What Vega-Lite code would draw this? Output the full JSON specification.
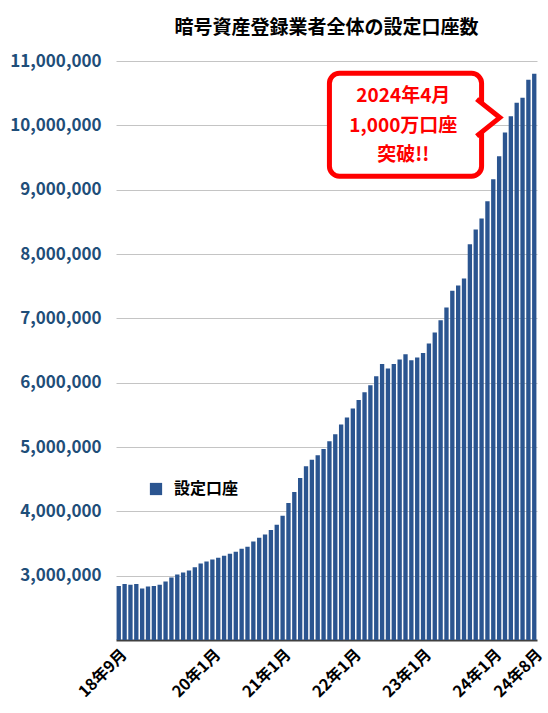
{
  "$schema": "https://vega.github.io/schema/vega-lite/v6.json",
  "autosize": {"type": "none"},
  "width": 421,
  "height": 579,
  "padding": {"left": 116, "top": 61, "right": 11, "bottom": 73},
  "config": {
    "font": "Noto Sans CJK JP",
    "view": {"stroke": null},
    "axis": {"ticks": false, "labelFontWeight": "bold", "titleFontWeight": "bold"}
  },
  "title": {
    "text": "暗号資産登録業者全体の設定口座数",
    "fontSize": 19,
    "fontWeight": "bold",
    "color": "#000000",
    "anchor": "middle",
    "offset": 14
  },
  "layer": [
    {
      "data": {
        "values": [
          {"月": "18年9月", "口座数": 2840000},
          {"月": "18年10月", "口座数": 2870000},
          {"月": "18年11月", "口座数": 2860000},
          {"月": "18年12月", "口座数": 2870000},
          {"月": "19年1月", "口座数": 2800000},
          {"月": "19年2月", "口座数": 2830000},
          {"月": "19年3月", "口座数": 2840000},
          {"月": "19年4月", "口座数": 2860000},
          {"月": "19年5月", "口座数": 2910000},
          {"月": "19年6月", "口座数": 2970000},
          {"月": "19年7月", "口座数": 3020000},
          {"月": "19年8月", "口座数": 3050000},
          {"月": "19年9月", "口座数": 3080000},
          {"月": "19年10月", "口座数": 3130000},
          {"月": "19年11月", "口座数": 3190000},
          {"月": "19年12月", "口座数": 3220000},
          {"月": "20年1月", "口座数": 3250000},
          {"月": "20年2月", "口座数": 3280000},
          {"月": "20年3月", "口座数": 3310000},
          {"月": "20年4月", "口座数": 3340000},
          {"月": "20年5月", "口座数": 3370000},
          {"月": "20年6月", "口座数": 3420000},
          {"月": "20年7月", "口座数": 3450000},
          {"月": "20年8月", "口座数": 3530000},
          {"月": "20年9月", "口座数": 3590000},
          {"月": "20年10月", "口座数": 3640000},
          {"月": "20年11月", "口座数": 3710000},
          {"月": "20年12月", "口座数": 3790000},
          {"月": "21年1月", "口座数": 3930000},
          {"月": "21年2月", "口座数": 4130000},
          {"月": "21年3月", "口座数": 4300000},
          {"月": "21年4月", "口座数": 4520000},
          {"月": "21年5月", "口座数": 4700000},
          {"月": "21年6月", "口座数": 4800000},
          {"月": "21年7月", "口座数": 4870000},
          {"月": "21年8月", "口座数": 4970000},
          {"月": "21年9月", "口座数": 5090000},
          {"月": "21年10月", "口座数": 5200000},
          {"月": "21年11月", "口座数": 5350000},
          {"月": "21年12月", "口座数": 5460000},
          {"月": "22年1月", "口座数": 5600000},
          {"月": "22年2月", "口座数": 5730000},
          {"月": "22年3月", "口座数": 5850000},
          {"月": "22年4月", "口座数": 5960000},
          {"月": "22年5月", "口座数": 6100000},
          {"月": "22年6月", "口座数": 6290000},
          {"月": "22年7月", "口座数": 6220000},
          {"月": "22年8月", "口座数": 6290000},
          {"月": "22年9月", "口座数": 6360000},
          {"月": "22年10月", "口座数": 6440000},
          {"月": "22年11月", "口座数": 6350000},
          {"月": "22年12月", "口座数": 6390000},
          {"月": "23年1月", "口座数": 6460000},
          {"月": "23年2月", "口座数": 6610000},
          {"月": "23年3月", "口座数": 6780000},
          {"月": "23年4月", "口座数": 6970000},
          {"月": "23年5月", "口座数": 7170000},
          {"月": "23年6月", "口座数": 7430000},
          {"月": "23年7月", "口座数": 7510000},
          {"月": "23年8月", "口座数": 7620000},
          {"月": "23年9月", "口座数": 8150000},
          {"月": "23年10月", "口座数": 8380000},
          {"月": "23年11月", "口座数": 8550000},
          {"月": "23年12月", "口座数": 8820000},
          {"月": "24年1月", "口座数": 9160000},
          {"月": "24年2月", "口座数": 9520000},
          {"月": "24年3月", "口座数": 9890000},
          {"月": "24年4月", "口座数": 10140000},
          {"月": "24年5月", "口座数": 10350000},
          {"月": "24年6月", "口座数": 10430000},
          {"月": "24年7月", "口座数": 10710000},
          {"月": "24年8月", "口座数": 10800000}
        ]
      },
      "mark": {"type": "bar", "clip": true},
      "encoding": {
        "x": {
          "field": "月",
          "type": "ordinal",
          "sort": null,
          "scale": {"paddingInner": 0.26, "paddingOuter": 0.1},
          "axis": {
            "title": null,
            "values": ["18年9月", "20年1月", "21年1月", "22年1月", "23年1月", "24年1月", "24年8月"],
            "labelAngle": -45,
            "labelFontSize": 16,
            "labelColor": "#000000",
            "labelPadding": 6,
            "domainColor": "#404040",
            "domainWidth": 2,
            "grid": false
          }
        },
        "y": {
          "field": "口座数",
          "type": "quantitative",
          "scale": {"domain": [2000000, 11000000], "nice": false, "zero": false},
          "axis": {
            "title": null,
            "values": [3000000, 4000000, 5000000, 6000000, 7000000, 8000000, 9000000, 10000000, 11000000],
            "format": ",d",
            "labelFontSize": 17,
            "labelColor": "#1f4e79",
            "labelPadding": 15,
            "domain": false,
            "grid": true,
            "gridColor": "#c4c4c4",
            "gridWidth": 1
          }
        },
        "color": {
          "datum": "設定口座",
          "type": "nominal",
          "scale": {"range": ["#2b5590"]},
          "legend": {
            "title": null,
            "orient": "none",
            "legendX": 32,
            "legendY": 420,
            "symbolType": "square",
            "symbolSize": 150,
            "symbolStrokeWidth": 0,
            "labelFontSize": 16,
            "labelFontWeight": "bold",
            "labelColor": "#000000",
            "labelOffset": 10
          }
        }
      }
    },
    {
      "data": {"values": [{"始": "21年9月", "終": "23年11月", "上": 10810000, "下": 9210000}]},
      "mark": {"type": "rect", "fill": "#ffffff", "stroke": "#ff0000", "strokeWidth": 5, "cornerRadius": 10},
      "encoding": {
        "x": {"field": "始", "type": "ordinal", "sort": null},
        "x2": {"field": "終"},
        "y": {"field": "上", "type": "quantitative"},
        "y2": {"field": "下"}
      }
    },
    {
      "data": {"values": [{"月": "23年10月", "口座数": 10120000}]},
      "mark": {
        "type": "point",
        "shape": "M0.05,-1L1.3,0L0.05,1",
        "size": 1369,
        "filled": true,
        "fill": "#ffffff",
        "stroke": "#ff0000",
        "strokeWidth": 5,
        "strokeJoin": "miter",
        "opacity": 1
      },
      "encoding": {
        "x": {"field": "月", "type": "ordinal", "sort": null},
        "y": {"field": "口座数", "type": "quantitative"}
      }
    },
    {
      "data": {
        "values": [
          {"月": "22年10月", "位置": 10457000, "文": "2024年4月"},
          {"月": "22年10月", "位置": 9990000, "文": "1,000万口座"},
          {"月": "22年10月", "位置": 9540000, "文": "突破!!"}
        ]
      },
      "mark": {"type": "text", "color": "#ff0000", "fontSize": 19, "fontWeight": "bold", "align": "center", "baseline": "middle"},
      "encoding": {
        "x": {"field": "月", "type": "ordinal", "sort": null, "bandPosition": 0},
        "y": {"field": "位置", "type": "quantitative"},
        "text": {"field": "文"}
      }
    }
  ]
}
